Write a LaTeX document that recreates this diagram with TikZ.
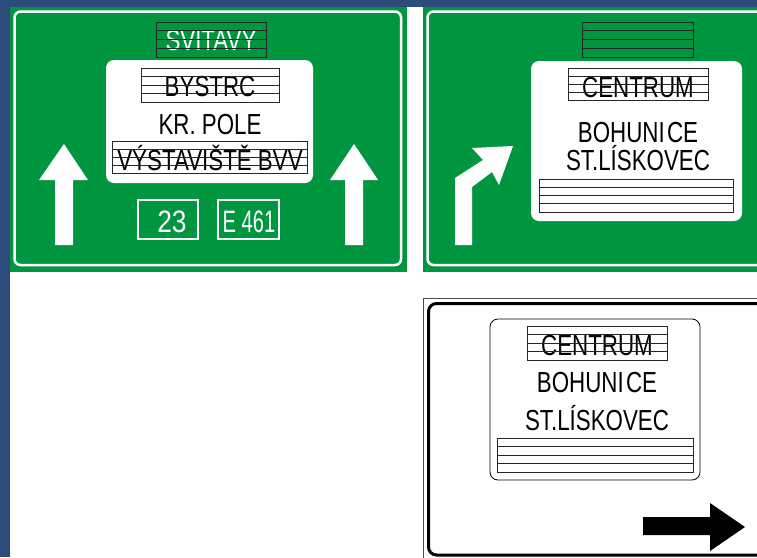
\documentclass[tikz,border=0pt]{standalone}
\usepackage{fontspec}
\setmainfont{Liberation Sans}
\usepackage{graphicx}
\definecolor{signgreen}{RGB}{0,150,64}
\definecolor{slideblue}{RGB}{44,74,122}
\newcommand{\narrow}[1]{\scalebox{0.77}[1]{#1}}
\newcommand{\stripes}[4]{%
  \draw[stripe] (#1,#2) rectangle (#3,#4);
  \foreach \k in {1,2,3}
    \draw[stripe] (#1,{#2+\k*(#4-#2)/4}) -- (#3,{#2+\k*(#4-#2)/4});}
\tikzset{
  stripe/.style={draw=black!85, line width=0.9pt},
  signtext/.style={inner sep=0pt, anchor=base, font=\fontsize{29}{30}\selectfont},
  roadno/.style={inner sep=0pt, anchor=base, white, font=\fontsize{31}{32}\selectfont},
  panel/.style={fill=white, rounded corners=8pt},
  border/.style={white, line width=2.5pt, rounded corners=6pt}
}
\begin{document}
\begin{tikzpicture}[x=1pt, y=-1pt]
 \useasboundingbox (0,0) rectangle (757,557);
 \clip (0,0) rectangle (757,557);
 \fill[white] (0,0) rectangle (757,557);
 \fill[slideblue] (0,0) rectangle (757,7);
 \fill[slideblue] (0,0) rectangle (10,557);

 \fill[signgreen] (10,7) rectangle (407,272);
 \draw[border] (14.5,11.5) rectangle (401,265);
 \fill[signgreen] (156,22) rectangle (266,57);
 \node[signtext, white] (svitavy) at (211,50) {\narrow{SVITAVY}};
 \stripes{156}{22}{266}{57}
 \fill[panel] (106,60) rectangle (313,183);
 \node[signtext] (bystrc) at (210,96) {\narrow{BYSTRC}};
 \stripes{141}{68}{279}{102}
 \node[signtext] (krpole) at (210,134) {\narrow{KR. POLE}};
 \node[signtext] (vystaviste) at (210,170) {\narrow{VÝSTAVIŠTĚ BVV}};
 \stripes{112}{141}{307}{173}
 \draw[white, line width=1.2pt] (138,200) rectangle (198,239);
 \node[roadno] (road) at (172,232) {\scalebox{0.85}[1]{23}};
 \draw[white, line width=1.2pt] (218,200) rectangle (279,239);
 \node[roadno] (eroad) at (249,232) {\scalebox{0.65}[1]{E 461}};
 \fill[white] (55,245) -- (55,180) -- (39,180) -- (64,144) -- (88,180) -- (73,180) -- (73,245) -- cycle;
 \fill[white] (345,245) -- (345,180) -- (330,180) -- (354,144) -- (378,180) -- (363,180) -- (363,245) -- cycle;

 \fill[signgreen] (423,7) rectangle (775,272);
 \draw[border] (427.5,11.5) rectangle (768,265);
 \fill[signgreen] (582,22) rectangle (693,57);
 \stripes{582}{22}{693}{57}
 \fill[panel] (531,61) rectangle (742,221);
 \node[signtext] (centrum) at (638,97) {\narrow{CENTRUM}};
 \stripes{568}{68}{708}{100}
 \node[signtext] (bohunice) at (638,142) {\narrow{BOHUNI\kern3pt CE}};
 \node[signtext] (liskovec) at (638,170) {\narrow{ST.LÍSKOVEC}};
 \stripes{539}{179}{733}{212}
 \fill[white] (455,245) -- (455,178) -- (483,160) -- (472,148) -- (513,146) -- (499,185) -- (492,172) -- (472,187) -- (472,245) -- cycle;

 \draw[black!70, line width=0.8pt] (423,298) rectangle (790,590);
 \draw[line width=3pt, rounded corners=8pt] (428.5,303.5) rectangle (775,555);
 \draw[line width=0.8pt, rounded corners=8pt] (490,319) rectangle (700,480);
 \node[signtext] (centrumb) at (597,355) {\narrow{CENTRUM}};
 \stripes{527}{326}{667}{360}
 \node[signtext] (bohuniceb) at (597,392) {\narrow{BOHUNI\kern3pt CE}};
 \node[signtext] (liskovecb) at (597,430) {\narrow{ST.LÍSKOVEC}};
 \stripes{497}{438}{693}{472}
 \fill (643,517) -- (710,517) -- (710,503) -- (745,527) -- (710,551) -- (710,535) -- (643,535) -- cycle;
\end{tikzpicture}
\end{document}
